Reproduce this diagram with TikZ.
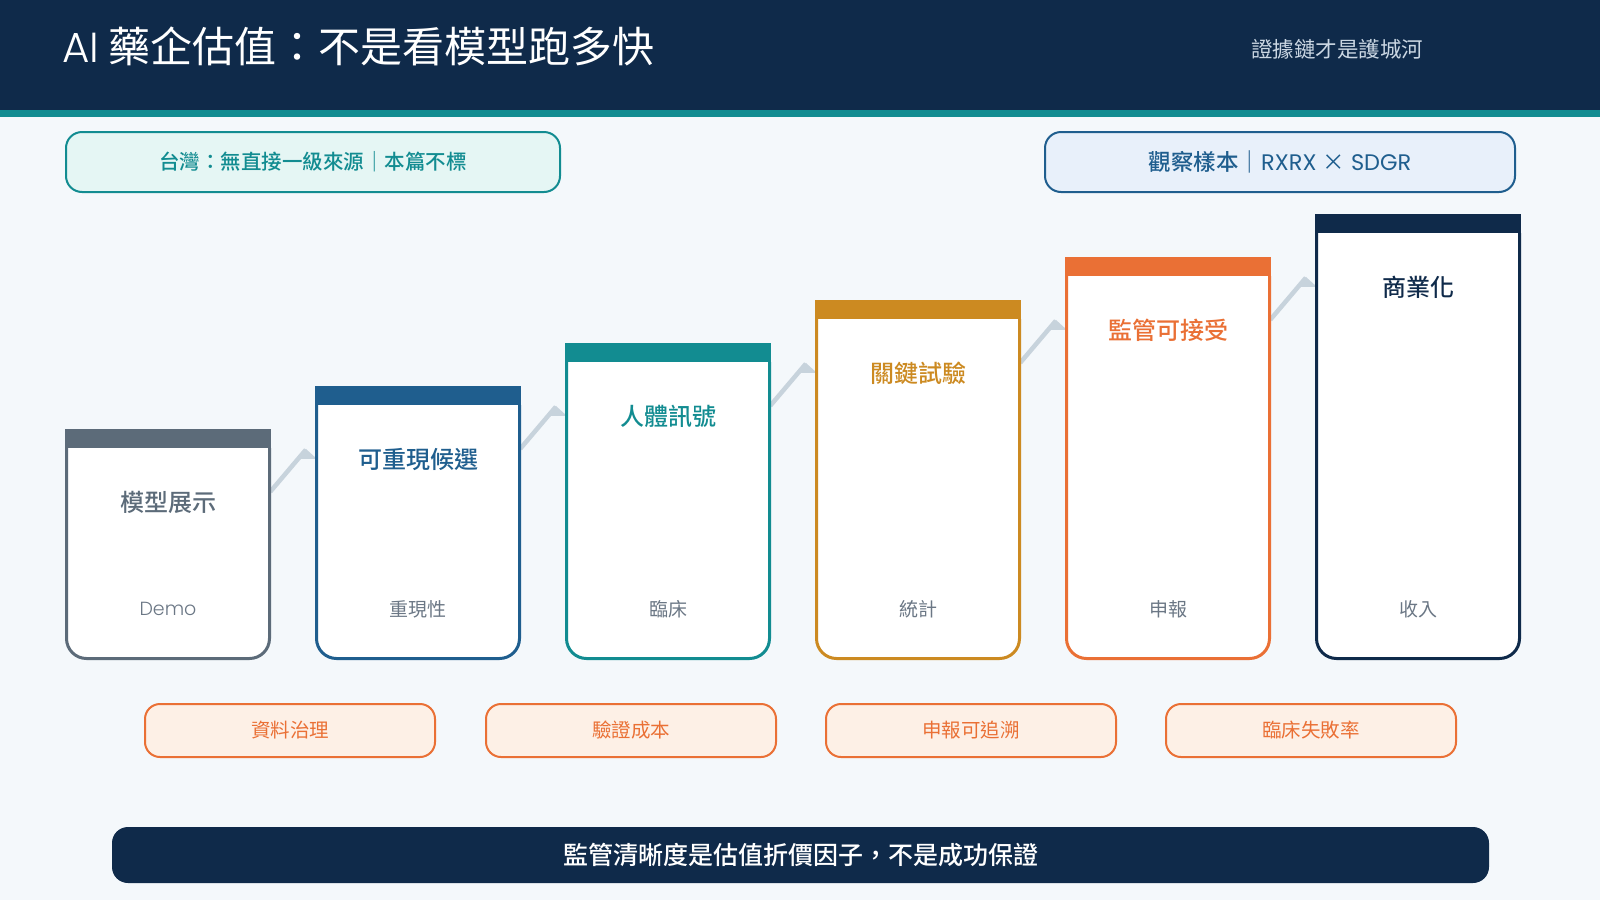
\documentclass[tikz,border=0pt]{standalone}
\usepackage{fontspec}
\setmainfont{Noto Sans CJK TC}
\newfontfamily\cjk{Noto Sans CJK TC}
\newfontfamily\cjkm{Noto Sans CJK TC}[UprightFont=* Medium]
\newfontfamily\lat{Poppins}
\newfontfamily\latl{Poppins}[UprightFont=* Light]
\usetikzlibrary{calc}
\definecolor{navy}{HTML}{0F2A4A}
\definecolor{tealc}{HTML}{128C91}
\definecolor{slate}{HTML}{5C6B79}
\definecolor{bluec}{HTML}{1F5E8E}
\definecolor{amber}{HTML}{CC8A21}
\definecolor{orangec}{HTML}{EA7035}
\definecolor{bgc}{HTML}{F4F8FB}
\definecolor{tealbg}{HTML}{E5F6F4}
\definecolor{bluebg}{HTML}{E8F0FA}
\definecolor{peach}{HTML}{FDF0E6}
\definecolor{conn}{HTML}{C7D3DC}
\definecolor{labgray}{HTML}{6B7785}
\definecolor{subc}{HTML}{CBD7E3}
\tikzset{
  pill/.style={draw, line width=2pt, rounded corners=16pt, inner sep=0, align=center},
  cardbox/.style={minimum width=206pt, inner sep=0, draw=none},
  cardtitle/.style={inner sep=0, font=\cjkm\fontsize{24}{28}\selectfont},
  cardlab/.style={inner sep=0, text=labgray, font=\cjk\fontsize{19}{22}\selectfont},
  connline/.style={draw=conn, line width=4.5pt},
}
\begin{document}
\begin{tikzpicture}[x=1pt,y=-1pt]
\useasboundingbox (0,0) rectangle (1600,900);
\fill[bgc] (0,0) rectangle (1600,900);
\fill[navy] (0,0) rectangle (1600,110);
\fill[tealc] (0,110) rectangle (1600,117);
\node[anchor=west, inner sep=0, text=white, font=\cjk\fontsize{42}{50}\selectfont] (title) at (62,46) {{\latl AI} 藥企估值：不是看模型跑多快};
\node[anchor=west, inner sep=0, text=subc, font=\cjk\fontsize{21.5}{26}\selectfont] (subtitle) at (1251,49) {證據鏈才是護城河};
\node[pill, draw=tealc, fill=tealbg, minimum width=494pt, minimum height=60pt, text=tealc, font=\cjkm\fontsize{20.5}{24}\selectfont] (tl) at (313,162) {台灣：無直接一級來源｜本篇不標};
\node[pill, draw=bluec, fill=bluebg, minimum width=470pt, minimum height=60pt, text=bluec, font=\cjkm\fontsize{22.5}{26}\selectfont] (tr) at (1280,162) {觀察樣本｜{\lat RXRX }{\cjk ×}{\lat\ SDGR}};
% card placeholders
\foreach \i in {1,...,6}{
  \pgfmathsetmacro\L{65+250*(\i-1)}
  \pgfmathsetmacro\T{429-43*(\i-1)}
  \pgfmathsetmacro\H{660-\T}
  \node[cardbox, minimum height=\H pt] (c\i) at ({\L+103},{(\T+660)/2}) {};
}
% connectors
\foreach \i/\j in {1/2,2/3,3/4,4/5,5/6}{
  \coordinate (s\i) at ($(c\i.north east)+(-1,63)$);
  \coordinate (p\i) at ($(c\j.north west)+(-9,64)$);
  \draw[connline] (s\i) -- (p\i);
  \fill[conn] ($(p\i)+(-7,9)$) -- ($(p\i)+(0,-1)$) -- ($(p\i)+(11,9)$) -- cycle;
}
% cards
\foreach \i/\col/\ttl/\lab in {1/slate/模型展示/{\latl Demo},2/bluec/可重現候選/重現性,3/tealc/人體訊號/臨床,4/amber/關鍵試驗/統計,5/orangec/監管可接受/申報,6/navy/商業化/收入}{
  \pgfmathsetmacro\L{65+250*(\i-1)}
  \pgfmathsetmacro\T{429-43*(\i-1)}
  \filldraw[fill=white, draw=\col, line width=3pt, rounded corners=20pt] (\L+1.5,\T+19) -- (\L+1.5,658.5) -- (\L+204.5,658.5) -- (\L+204.5,\T+19);
  \fill[\col] (\L,\T) rectangle (\L+206,\T+19);
  \node[cardtitle, text=\col] (t\i) at ({\L+103},{\T+73}) {\ttl};
  \node[cardlab] (l\i) at ({\L+103},609) {\lab};
}
% bottom pills
\foreach \k/\x/\txt in {1/290/資料治理,2/631/驗證成本,3/971/申報可追溯,4/1311/臨床失敗率}{
  \node[pill, draw=orangec, fill=peach, minimum width=290pt, minimum height=53pt, rounded corners=15pt, text=orangec, font=\cjk\fontsize{19.5}{23}\selectfont] (b\k) at (\x,730.5) {\txt};
}
\node[fill=navy, rounded corners=16pt, minimum width=1377pt, minimum height=56pt, inner sep=0, text=white, font=\cjkm\fontsize{25}{30}\selectfont] (banner) at (800.5,855) {監管清晰度是估值折價因子，不是成功保證};
\end{tikzpicture}
\end{document}
